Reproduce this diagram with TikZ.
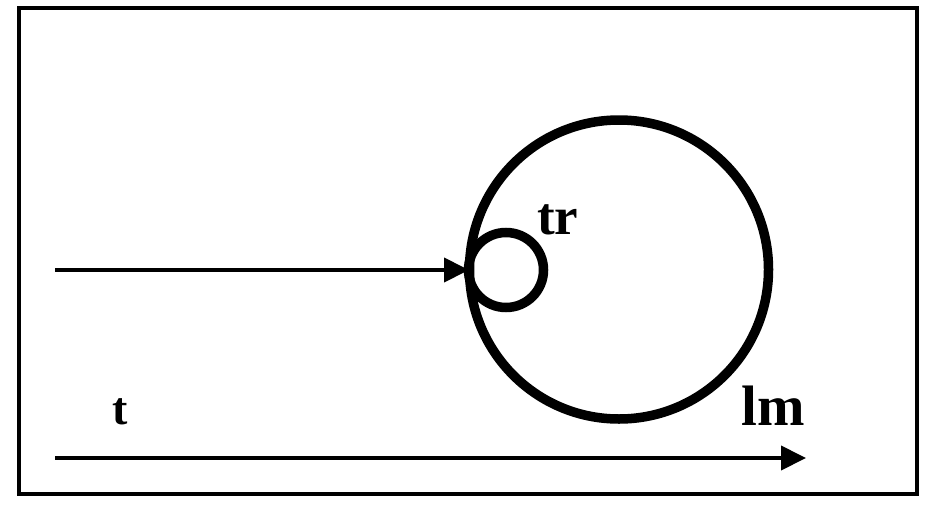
\documentclass[tikz,border=0pt]{standalone}
\usepackage{fontspec}
\setmainfont{Liberation Serif}
\usetikzlibrary{arrows.meta}
\tikzset{
  frame/.style={draw=black,line width=3.5pt},
  ring/.style={draw=black,line width=9.5pt},
  axis/.style={draw=black,line width=4pt,-{Triangle[length=25pt,width=24pt]}},
  lab/.style={font=\bfseries\fontsize{46}{46}\selectfont,inner sep=0pt,anchor=base west},
  midlab/.style={font=\bfseries\fontsize{53}{53}\selectfont,inner sep=0pt,anchor=base west},
  biglab/.style={font=\bfseries\fontsize{57}{57}\selectfont,inner sep=0pt,anchor=base west}
}
\begin{document}
\begin{tikzpicture}[x=1pt,y=-1pt]
\useasboundingbox (0,0) rectangle (939,506);
\fill[white] (0,0) rectangle (939,506);
\draw[frame] (19,8) rectangle (917,494);
\draw[ring] (619,269.5) circle (149.5);
\draw[ring] (506,270) circle (37.5);
\coordinate (s1) at (55,270);
\coordinate (e1) at (469,270);
\draw[axis] (s1) -- (e1);
\coordinate (s2) at (55,458);
\coordinate (e2) at (806,458);
\draw[axis] (s2) -- (e2);
\node[midlab] (tr) at (537,234) {tr};
\node[lab] (t) at (112,424) {t};
\node[biglab] (lm) at (741,425) {lm};
\end{tikzpicture}
\end{document}
